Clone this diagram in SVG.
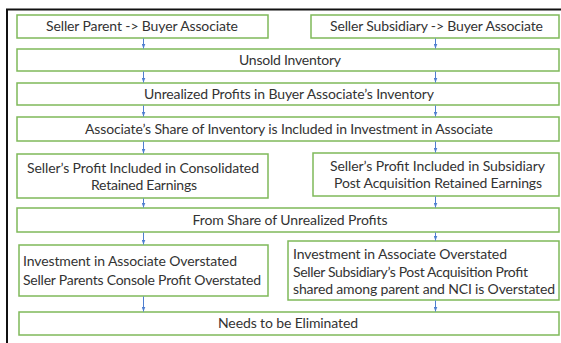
<svg xmlns="http://www.w3.org/2000/svg" width="561" height="343" viewBox="0 0 561 343">
<defs>
<style>
.box{fill:#fff;stroke:#7fb95a;stroke-width:1.5}
.t{font-family:Lato,"Open Sans",sans-serif;font-size:14px;fill:#333}
.c{text-anchor:middle}
.con line{stroke:#4f7fd0;stroke-width:1}
</style>
<marker id="ah" markerWidth="5" markerHeight="4" refX="5" refY="2" orient="auto" markerUnits="userSpaceOnUse">
<path d="M0,0 L5,2 L0,4 Z" fill="#4f7fd0"/>
</marker>
</defs>
<rect width="561" height="343" fill="#fff"/>
<path d="M7,343 V9.5 H561" fill="none" stroke="#111" stroke-width="2"/>
<g id="n1"><rect class="box" x="17" y="15" width="251" height="23"/><text class="t c" x="142" y="31" textLength="192">Seller Parent -&gt; Buyer Associate</text></g>
<g id="n2"><rect class="box" x="311" y="15" width="248" height="23"/><text class="t c" x="436.5" y="31" textLength="213">Seller Subsidiary -&gt; Buyer Associate</text></g>
<g id="n3"><rect class="box" x="17" y="49" width="542" height="22"/><text class="t c" x="290" y="65" textLength="102">Unsold Inventory</text></g>
<g id="n4"><rect class="box" x="17" y="83" width="542" height="22"/><text class="t c" x="289" y="99" textLength="290">Unrealized Profits in Buyer Associate’s Inventory</text></g>
<g id="n5"><rect class="box" x="17" y="117" width="542" height="24"/><text class="t c" x="289" y="134" textLength="408">Associate’s Share of Inventory is Included in Investment in Associate</text></g>
<g id="n6"><rect class="box" x="17" y="154" width="251" height="44"/><text class="t c" x="143" y="172.5" textLength="232">Seller’s Profit Included in Consolidated</text><text class="t c" x="144" y="190" textLength="106">Retained Earnings</text></g>
<g id="n7"><rect class="box" x="313" y="153" width="246" height="43"/><text class="t c" x="437.5" y="170.5" textLength="215">Seller’s Profit Included in Subsidiary</text><text class="t c" x="438" y="188" textLength="208">Post Acquisition Retained Earnings</text></g>
<g id="n8"><rect class="box" x="17" y="208" width="542" height="24"/><text class="t c" x="290" y="225" textLength="195">From Share of Unrealized Profits</text></g>
<g id="n9"><rect class="box" x="19" y="245" width="249" height="51"/><text class="t" x="23" y="266" textLength="214">Investment in Associate Overstated</text><text class="t" x="23" y="285" textLength="238">Seller Parents Console Profit Overstated</text></g>
<g id="n10"><rect class="box" x="288" y="241" width="271" height="59"/><text class="t" x="293" y="259" textLength="214">Investment in Associate Overstated</text><text class="t" x="293" y="277" textLength="235">Seller Subsidiary’s Post Acquisition Profit</text><text class="t" x="293" y="294" textLength="262">shared among parent and NCI is Overstated</text></g>
<g id="n11"><rect class="box" x="19" y="312" width="540" height="23"/><text class="t c" x="288" y="328" textLength="140">Needs to be Eliminated</text></g>
<g id="connectors" class="con">
<line x1="143.5" y1="38.5" x2="143.5" y2="48.5" marker-end="url(#ah)"/>
<line x1="435.5" y1="38.5" x2="435.5" y2="48.5" marker-end="url(#ah)"/>
<line x1="143.5" y1="71.5" x2="143.5" y2="82.5" marker-end="url(#ah)"/>
<line x1="435.5" y1="71.5" x2="435.5" y2="82.5" marker-end="url(#ah)"/>
<line x1="143.5" y1="105.5" x2="143.5" y2="116.5" marker-end="url(#ah)"/>
<line x1="435.5" y1="105.5" x2="435.5" y2="116.5" marker-end="url(#ah)"/>
<line x1="143.5" y1="141.5" x2="143.5" y2="153.5" marker-end="url(#ah)"/>
<line x1="435.5" y1="141.5" x2="435.5" y2="152.5" marker-end="url(#ah)"/>
<line x1="143.5" y1="198.5" x2="143.5" y2="207.5" marker-end="url(#ah)"/>
<line x1="435.5" y1="196.5" x2="435.5" y2="207.5" marker-end="url(#ah)"/>
<line x1="143.5" y1="232.5" x2="143.5" y2="244.5" marker-end="url(#ah)"/>
<line x1="435.5" y1="232.5" x2="435.5" y2="240.5" marker-end="url(#ah)"/>
<line x1="143.5" y1="296.5" x2="143.5" y2="311.5" marker-end="url(#ah)"/>
<line x1="435.5" y1="300.5" x2="435.5" y2="311.5" marker-end="url(#ah)"/>
</g>
</svg>
